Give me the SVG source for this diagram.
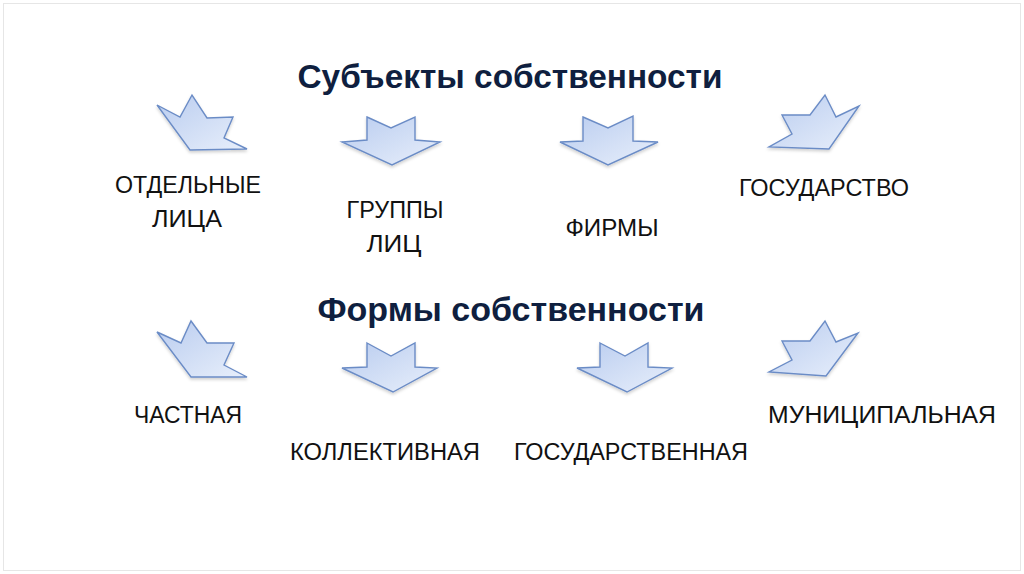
<svg xmlns="http://www.w3.org/2000/svg" width="1024" height="574" viewBox="0 0 1024 574">
<defs>
<linearGradient id="g" x1="0" y1="0" x2="1" y2="1">
<stop offset="0" stop-color="#b9ccef"/>
<stop offset="1" stop-color="#e8effb"/>
</linearGradient>
<filter id="sh" x="-20%" y="-20%" width="140%" height="150%">
<feDropShadow dx="0" dy="2" stdDeviation="1.5" flood-color="#000" flood-opacity="0.18"/>
</filter>
</defs>
<style>
.ar{fill:url(#g);stroke:#6b8cc6;stroke-width:1.4;stroke-linejoin:miter;filter:url(#sh)}
.t{font-family:"Liberation Sans",Arial,sans-serif;font-weight:bold;fill:#0f1f3f;text-anchor:middle}
.l{font-family:"Liberation Sans",Arial,sans-serif;font-size:23.5px;fill:#111;text-anchor:middle}
</style>
<rect x="0" y="0" width="1024" height="574" fill="#fff"/>
<rect x="3.5" y="3.5" width="1017" height="567" fill="none" stroke="#e6e6e6" stroke-width="1"/>

<g id="title1"><text class="t" x="510" y="88" font-size="34" textLength="425" lengthAdjust="spacingAndGlyphs">Субъекты собственности</text></g>
<g id="title2"><text class="t" x="511" y="321" font-size="34" textLength="387" lengthAdjust="spacingAndGlyphs">Формы собственности</text></g>

<g id="connectors">
<polygon class="ar" points="157,105 180,117 192,95 207,118 233,117 224,138 247,149 190,150"/>
<polygon class="ar" points="367,117 391,128 415,117 415,140 440,142 392,165 342,142 367,140"/>
<polygon class="ar" points="583,117 608,128 633,116 633,141 658,142 608,165 560,142 583,141"/>
<polygon class="ar" points="782,115 810,115 825,95 836,117 859,106 829,149 769,147 792,134"/>
<polygon class="ar" points="157,332 181,343 191,321 207,343 234,343 224,365 247,377 191,377"/>
<polygon class="ar" points="367,343 391,356 415,343 415,367 437,368 393,392 342,368 367,367"/>
<polygon class="ar" points="600,343 625,356 648,343 648,367 672,368 627,392 577,368 600,367"/>
<polygon class="ar" points="782,341 810,341 825,321 836,342 858,333 826,376 769,372 792,360"/>
</g>

<g id="n-otdelnye"><text class="l" x="188" y="193" textLength="146" lengthAdjust="spacingAndGlyphs">ОТДЕЛЬНЫЕ</text><text class="l" x="187" y="227" textLength="70" lengthAdjust="spacingAndGlyphs">ЛИЦА</text></g>
<g id="n-gruppy"><text class="l" x="395" y="218" textLength="97" lengthAdjust="spacingAndGlyphs">ГРУППЫ</text><text class="l" x="394" y="252" textLength="55" lengthAdjust="spacingAndGlyphs">ЛИЦ</text></g>
<g id="n-firmy"><text class="l" x="612" y="236" textLength="93" lengthAdjust="spacingAndGlyphs">ФИРМЫ</text></g>
<g id="n-gosudarstvo"><text class="l" x="824" y="196" textLength="170" lengthAdjust="spacingAndGlyphs">ГОСУДАРСТВО</text></g>
<g id="n-chastnaya"><text class="l" x="188" y="423" textLength="108" lengthAdjust="spacingAndGlyphs">ЧАСТНАЯ</text></g>
<g id="n-kollektivnaya"><text class="l" x="385" y="460" textLength="190" lengthAdjust="spacingAndGlyphs">КОЛЛЕКТИВНАЯ</text></g>
<g id="n-gosudarstvennaya"><text class="l" x="631" y="460" textLength="234" lengthAdjust="spacingAndGlyphs">ГОСУДАРСТВЕННАЯ</text></g>
<g id="n-municipalnaya"><text class="l" x="882" y="423" textLength="228" lengthAdjust="spacingAndGlyphs">МУНИЦИПАЛЬНАЯ</text></g>
</svg>
